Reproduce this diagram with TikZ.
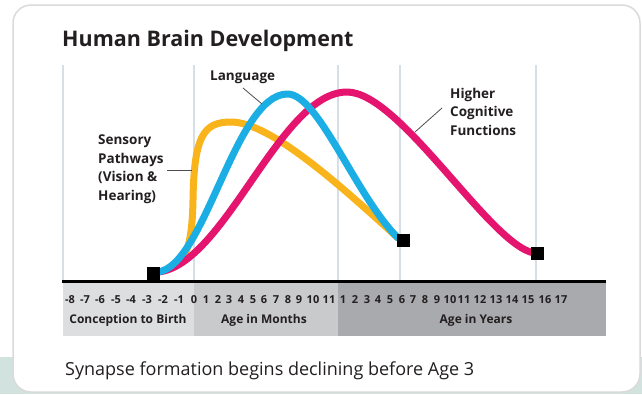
\documentclass[tikz,border=0pt]{standalone}
\usepackage{fontspec}
\setmainfont{Open Sans}
\definecolor{ink}{HTML}{231F20}
\definecolor{gridc}{HTML}{D6DEE7}
\definecolor{bandA}{HTML}{DDDEE0}
\definecolor{bandB}{HTML}{C9CACC}
\definecolor{bandC}{HTML}{A9AAAD}
\definecolor{teal}{HTML}{D2E3DF}
\definecolor{cardline}{HTML}{DADADA}
\definecolor{cyellow}{HTML}{F8B41A}
\definecolor{cblue}{HTML}{1BAEE4}
\definecolor{cpink}{HTML}{E5146F}
\tikzset{
  lbl/.style={font=\fontsize{13.5}{18.5}\selectfont\bfseries, text=ink, align=left, inner sep=0pt, anchor=north west},
  tick/.style={font=\fontsize{11}{12}\selectfont\bfseries, text=ink, inner sep=0pt, anchor=base},
  band/.style={font=\fontsize{12}{13}\selectfont\bfseries, text=ink, inner sep=0pt, anchor=base},
  gridline/.style={draw=gridc, line width=1.5pt},
  curve/.style={line width=7pt, line cap=round, line join=round},
  endsq/.style={fill=black, minimum size=13pt, inner sep=0pt, draw=none},
  leader/.style={draw=ink!80, line width=0.8pt}
}
\begin{document}
\begin{tikzpicture}[x=1pt,y=-1pt]
\useasboundingbox (0,0) rectangle (642,394);
% background
\fill[teal] (0,357) rectangle (642,394);
\draw[cardline, line width=1.5pt, fill=white, rounded corners=18pt] (13,5) rectangle (640,392);
% title
\node[font=\fontsize{21.5}{22}\selectfont\bfseries, text=ink, inner sep=0pt, anchor=base west] (title) at (62,46) {Human Brain Development};
% grid
\foreach \gx in {63,194,338,400,536} \draw[gridline] (\gx,65) -- (\gx,280);
% bands
\fill[bandA] (63,283) rectangle (194,336);
\fill[bandB] (194,283) rectangle (338,336);
\fill[bandC] (338,283) rectangle (606,336);
\draw[black, line width=3pt] (62,281) -- (606,281);
% tick labels
\foreach \v/\px in {-8/70,-7/85,-6/100,-5/116,-4/131,-3/147,-2/163,-1/179,0/194,1/206,2/218,3/229,4/241,5/253,6/264,7/276,8/288,9/299,10/313,11/329}
  \node[tick] at (\px,303) {\v};
\foreach \v/\px in {1/343,2/355,3/367,4/378,5/390,6/402,7/413,8/425,9/437,10/450,11/464,12/480,13/496,14/512,15/528,16/545,17/561}
  \node[tick] at (\px,303) {\v};
\node[band] (b1) at (128,323) {Conception to Birth};
\node[band] (b2) at (264,323) {Age in Months};
\node[band] (b3) at (476,323) {Age in Years};
% squares
\node[endsq] (s0) at (153,273) {};
\node[endsq] (s1) at (403,240) {};
\node[endsq] (s2) at (537,253) {};
% curves
\draw[curve, cyellow] (158,272) .. controls (185,268) and (192,250) .. (193,200)
  .. controls (194,135) and (204,122) .. (231,122)
  .. controls (270,122) and (340,185) .. (398,238);
\draw[curve, cpink] (158,272) .. controls (225,265) and (280,92) .. (347,92)
  .. controls (400,92) and (490,245) .. (534,253);
\draw[curve, cblue] (158,272) .. controls (205,266) and (235,95) .. (287,94)
  .. controls (318,93) and (355,195) .. (398,238);
\node[endsq] at (s0) {};
\node[endsq] at (s1) {};
\node[endsq] at (s2) {};
% labels
\node[lbl] (lang) at (210,71) {Language};
\node[lbl] (sens) at (98,135) {Sensory\\Pathways\\(Vision \&\\Hearing)};
\node[lbl] (hcf) at (450,88) {Higher\\Cognitive\\Functions};
\coordinate (langE) at (262,104);
\coordinate (sensE) at (192,170);
\coordinate (hcfE) at (415,132);
\draw[leader] (243,88) -- (langE);
\draw[leader] (167,170) -- (sensE);
\draw[leader] (442,108) -- (hcfE);
% caption
\node[font=\fontsize{18}{20}\selectfont, text=ink, inner sep=0pt, anchor=base west] (cap) at (65,375) {Synapse formation begins declining before Age 3};
\end{tikzpicture}
\end{document}
